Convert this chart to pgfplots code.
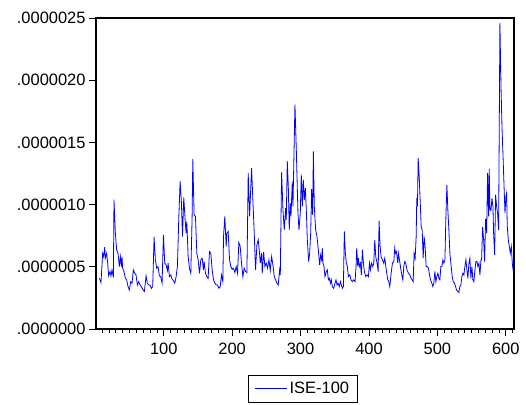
\documentclass[border=0pt]{standalone}
\usepackage{fontspec}
\setmainfont{Liberation Sans}
\usepackage{pgfplots}
\usepackage{pgfplotstable}
\pgfplotsset{compat=1.18}
\pgfplotstableread{
t v
6 4.08e-7
8.3 3.73e-7
10.7 6.09e-7
12.2 5.82e-7
13.7 6.58e-7
14.6 5.69e-7
16.6 6.09e-7
18.1 5.29e-7
19.5 4.27e-7
21.5 4.62e-7
22.9 4.27e-7
24.4 4.75e-7
26.4 4.16e-7
27.3 10.39e-7
29.3 7.70e-7
31.2 6.36e-7
33.2 6.09e-7
35.1 5.02e-7
36.6 5.82e-7
38.1 5.02e-7
39.0 5.82e-7
40.0 4.88e-7
42.0 4.62e-7
43.9 4.08e-7
45.9 3.95e-7
47.8 3.41e-7
49.8 3.14e-7
51.7 3.81e-7
53.7 3.68e-7
55.6 4.75e-7
57.6 4.48e-7
59.5 4.35e-7
61.5 3.54e-7
63.4 3.81e-7
65.4 3.54e-7
67.3 3.41e-7
69.3 3.19e-7
71.7 3.01e-7
74.2 4.27e-7
76.1 3.68e-7
78.1 3.54e-7
80.0 3.52e-7
82.0 3.27e-7
83.9 3.41e-7
85.9 7.38e-7
87.8 5.56e-7
89.8 4.88e-7
91.7 5.02e-7
93.7 4.27e-7
95.6 4.21e-7
97.6 3.68e-7
99.6 7.57e-7
101.5 5.29e-7
103.5 5.15e-7
105.4 4.70e-7
106.4 5.29e-7
108.3 4.21e-7
110.3 4.35e-7
112.2 4.00e-7
114.2 3.89e-7
116.1 3.68e-7
118.1 4.21e-7
120.0 5.02e-7
122.0 8.91e-7
124.0 11.86e-7
125.9 10.12e-7
127.4 7.43e-7
129.3 10.57e-7
131.3 8.78e-7
132.7 7.70e-7
133.7 8.64e-7
135.7 5.82e-7
137.6 4.88e-7
139.6 4.48e-7
141.5 9.05e-7
142.5 13.66e-7
144.4 9.18e-7
146.4 9.05e-7
148.4 6.09e-7
150.3 5.56e-7
152.3 4.48e-7
154.2 5.56e-7
156.2 5.69e-7
158.1 4.75e-7
159.1 5.42e-7
161.0 4.48e-7
163.0 4.21e-7
164.9 4.08e-7
166.9 6.23e-7
168.8 6.09e-7
170.8 4.75e-7
172.8 3.95e-7
174.7 3.68e-7
176.7 3.54e-7
178.6 3.54e-7
180.6 3.27e-7
182.5 3.41e-7
184.5 4.35e-7
186.4 3.81e-7
187.4 7.43e-7
189.3 9.05e-7
191.3 6.63e-7
192.3 7.70e-7
194.2 7.84e-7
196.2 5.56e-7
198.1 5.02e-7
200.1 4.80e-7
202.0 4.88e-7
204.0 4.54e-7
205.9 5.02e-7
207.9 4.48e-7
209.8 6.95e-7
211.8 6.63e-7
213.7 5.29e-7
215.7 4.21e-7
217.6 4.88e-7
219.6 4.62e-7
221.6 4.54e-7
223.5 12.53e-7
225.5 9.05e-7
228.4 12.94e-7
230.3 10.39e-7
232.3 7.70e-7
234.2 4.75e-7
236.2 6.76e-7
238.1 7.17e-7
240.1 6.09e-7
241.1 5.29e-7
243.0 6.09e-7
244.0 4.48e-7
246.0 6.20e-7
247.9 5.02e-7
249.9 5.29e-7
251.8 4.88e-7
253.8 5.56e-7
255.7 4.70e-7
257.7 5.82e-7
259.6 5.15e-7
261.6 4.21e-7
263.5 3.95e-7
265.5 3.68e-7
267.4 3.54e-7
269.4 4.75e-7
270.4 4.35e-7
272.3 12.59e-7
274.3 9.58e-7
276.2 7.97e-7
278.2 9.72e-7
279.1 8.78e-7
280.6 13.50e-7
282.1 11.46e-7
283.5 7.97e-7
285.0 10.12e-7
286.0 9.05e-7
287.9 11.86e-7
288.9 9.85e-7
291.8 18.04e-7
293.8 14.41e-7
296.2 9.31e-7
297.7 7.97e-7
299.6 9.31e-7
301.1 12.40e-7
302.6 9.85e-7
304.0 12.00e-7
305.5 10.39e-7
307.0 11.33e-7
308.4 9.58e-7
309.9 7.17e-7
311.8 5.42e-7
313.3 6.09e-7
314.8 7.70e-7
316.2 11.25e-7
317.7 9.18e-7
318.7 14.28e-7
320.1 9.85e-7
322.1 7.97e-7
324.0 7.43e-7
326.0 6.36e-7
327.9 5.15e-7
329.4 5.96e-7
330.9 5.56e-7
331.8 6.50e-7
332.8 5.29e-7
334.3 5.02e-7
335.7 4.21e-7
337.7 4.62e-7
339.2 4.75e-7
340.6 3.95e-7
342.1 4.08e-7
343.6 3.68e-7
345.0 3.95e-7
346.5 3.41e-7
348.4 3.27e-7
350.4 3.68e-7
351.8 3.95e-7
353.3 3.54e-7
354.8 3.68e-7
356.7 3.41e-7
358.2 3.81e-7
359.6 3.54e-7
361.1 3.27e-7
362.6 3.41e-7
364.0 7.84e-7
365.5 6.09e-7
367.0 5.29e-7
368.4 5.02e-7
369.9 4.21e-7
371.9 4.35e-7
373.8 3.95e-7
375.8 3.81e-7
377.7 3.95e-7
379.7 3.81e-7
381.1 5.02e-7
382.1 6.50e-7
383.6 5.02e-7
384.5 5.69e-7
386.0 5.02e-7
387.5 5.29e-7
388.9 4.35e-7
390.4 6.36e-7
391.9 5.29e-7
393.3 4.62e-7
395.3 4.21e-7
397.2 4.35e-7
399.2 4.21e-7
400.7 5.29e-7
402.1 4.75e-7
403.6 5.29e-7
405.5 5.02e-7
407.0 5.29e-7
408.5 7.17e-7
409.9 5.82e-7
411.9 5.29e-7
413.4 4.62e-7
414.8 8.70e-7
416.3 6.63e-7
417.7 5.82e-7
419.7 5.56e-7
421.6 5.29e-7
423.1 5.69e-7
424.6 5.02e-7
426.0 4.48e-7
427.5 3.95e-7
429.0 3.81e-7
430.4 3.41e-7
432.4 4.48e-7
434.3 5.29e-7
436.3 5.42e-7
437.7 6.50e-7
438.7 6.09e-7
440.2 6.23e-7
442.1 5.29e-7
443.1 6.09e-7
444.6 5.56e-7
446.0 5.02e-7
447.5 4.48e-7
449.5 3.95e-7
450.9 5.02e-7
452.4 5.42e-7
453.8 5.29e-7
455.8 4.70e-7
457.7 4.48e-7
459.7 4.35e-7
461.6 4.08e-7
463.1 3.95e-7
464.6 3.81e-7
466.0 6.09e-7
467.5 5.69e-7
469.0 7.43e-7
469.9 10.52e-7
470.9 9.85e-7
471.9 13.74e-7
473.4 12.27e-7
474.8 10.39e-7
476.3 8.24e-7
477.8 7.97e-7
479.2 5.69e-7
480.7 7.43e-7
482.2 6.50e-7
483.6 5.02e-7
485.1 5.02e-7
487.0 4.88e-7
488.5 4.35e-7
490.0 3.95e-7
491.9 3.68e-7
493.4 3.41e-7
494.8 3.68e-7
496.3 4.62e-7
497.8 3.81e-7
499.2 4.21e-7
500.7 4.48e-7
502.2 4.08e-7
503.6 3.95e-7
505.1 5.02e-7
506.6 5.02e-7
508.0 5.56e-7
509.5 5.29e-7
511.0 5.56e-7
512.4 8.91e-7
513.9 11.59e-7
515.3 9.58e-7
516.8 7.97e-7
518.3 6.09e-7
520.2 5.02e-7
521.7 4.21e-7
523.1 3.81e-7
525.1 3.68e-7
526.6 3.41e-7
528.0 3.14e-7
530.0 3.01e-7
531.4 2.93e-7
532.9 3.41e-7
534.4 3.54e-7
535.8 4.21e-7
537.3 4.48e-7
538.8 4.35e-7
540.2 5.02e-7
541.7 5.56e-7
543.2 4.75e-7
544.6 4.08e-7
546.1 5.29e-7
547.5 5.69e-7
549.0 4.08e-7
550.5 5.02e-7
551.9 3.95e-7
553.4 3.81e-7
554.9 4.75e-7
556.3 5.42e-7
557.8 5.42e-7
559.3 5.02e-7
560.7 5.29e-7
562.2 4.35e-7
563.7 5.56e-7
564.6 5.56e-7
566.1 8.19e-7
567.6 7.17e-7
569.0 5.42e-7
570.5 8.83e-7
572.0 7.70e-7
573.4 12.53e-7
574.9 9.05e-7
575.8 12.88e-7
576.8 9.58e-7
578.3 9.53e-7
579.8 10.52e-7
581.2 9.85e-7
582.2 7.70e-7
583.7 5.96e-7
585.1 10.79e-7
586.6 9.85e-7
588.0 9.31e-7
589.5 7.97e-7
590.5 16.69e-7
591.4 24.61e-7
592.9 19.78e-7
594.4 16.29e-7
595.8 14.14e-7
597.3 11.73e-7
598.8 9.31e-7
600.2 10.66e-7
601.2 10.92e-7
602.2 8.24e-7
603.7 7.17e-7
605.1 6.63e-7
606.6 6.09e-7
608.1 6.63e-7
609.5 5.29e-7
611.0 4.62e-7
}\isedata
\begin{document}
\begin{tikzpicture}
\begin{axis}[
  scale only axis,
  width=418bp, height=311bp,
  xmin=1, xmax=612,
  ymin=0, ymax=2.5e-6,
  axis line style={line width=1.2pt, black},
  xtick={100,200,300,400,500,600},
  minor xtick={10,20,...,610},
  ytick={0,5e-7,1e-6,1.5e-6,2e-6,2.5e-6},
  yticklabels={.0000000,.0000005,.0000010,.0000015,.0000020,.0000025},
  scaled y ticks=false,
  tick align=outside,
  xtick pos=bottom, ytick pos=left,
  major tick length=7bp, minor tick length=4bp,
  tick style={black, line width=0.8pt},
  minor tick style={black, line width=0.7pt},
  /pgf/number format/assume math mode=true,
  ticklabel style={font=\fontsize{16.5}{19}\selectfont},
  xticklabel style={yshift=-3bp},
  legend style={
    at={(0.495,-0.191)}, anchor=center,
    draw=black, line width=0.6pt,
    font=\fontsize{16.5}{19}\selectfont,
    inner xsep=6bp, inner ysep=5bp,
  },
  legend image code/.code={\draw[#1, line width=0.9pt] (0bp,0bp) -- (32bp,0bp);},
]
\addplot[color=blue, line width=0.8pt] table[x=t, y=v] {\isedata};
\addlegendentry{ISE-100}
\coordinate (bl) at (rel axis cs:0,0);
\end{axis}
\path (bl) ++(-96bp,-76bp) rectangle ++(526bp,405bp);
\end{tikzpicture}
\end{document}
